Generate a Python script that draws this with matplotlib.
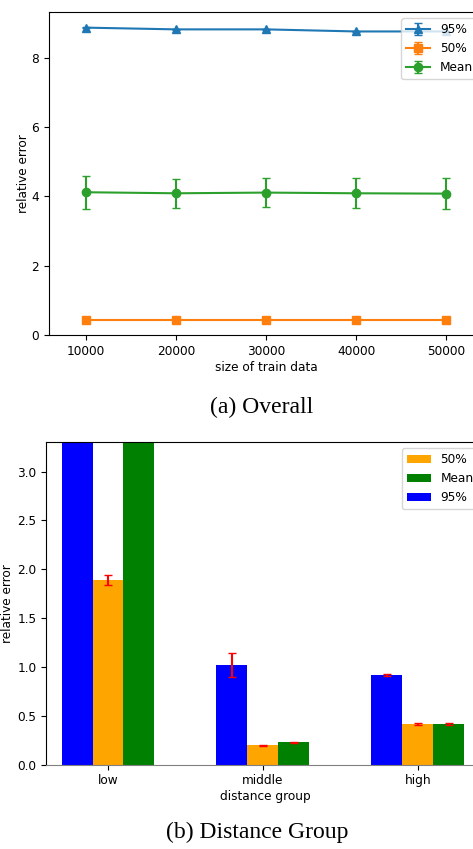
import matplotlib
matplotlib.use("Agg")
import matplotlib.pyplot as plt
import numpy as np

# (a) overall, relative error vs size of train data
train_size = [10000, 20000, 30000, 40000, 50000]
p95 = [8.87, 8.82, 8.82, 8.76, 8.76]
p95_err = [0.02, 0.02, 0.02, 0.02, 0.02]
p50 = [0.42, 0.42, 0.42, 0.42, 0.42]
p50_err = [0.01, 0.01, 0.01, 0.01, 0.01]
mean = [4.12, 4.09, 4.11, 4.09, 4.08]
mean_err = [0.47, 0.42, 0.43, 0.43, 0.44]

# (b) distance group
groups = ["low", "middle", "high"]
g50 = [1.89, 0.20, 0.416]
g50_err = [0.055, 0.005, 0.008]
gmean = [4.6, 0.232, 0.418]
gmean_err = [0.1, 0.005, 0.008]
g95 = [12.0, 1.02, 0.917]
g95_err = [0.3, 0.125, 0.012]

fs = 8.7
plt.rcParams['font.size'] = fs

fig = plt.figure(figsize=(4.73, 8.49), dpi=100)

ax1 = fig.add_axes([0.1036, 0.6054, 0.92, 0.380])
ax1.errorbar(train_size, p95, yerr=p95_err, marker='^', color='C0', capsize=3, label='95%')
ax1.errorbar(train_size, p50, yerr=p50_err, marker='s', color='C1', capsize=3, label='50%')
ax1.errorbar(train_size, mean, yerr=mean_err, marker='o', color='C2', capsize=3, label='Mean')
ax1.set_xlim(5900, 54200)
ax1.set_ylim(0, 9.31)
ax1.set_xticks(train_size)
ax1.set_yticks([0, 2, 4, 6, 8])
ax1.set_xlabel("size of train data", labelpad=2)
ax1.set_ylabel("relative error", labelpad=1)
ax1.legend(loc='upper right', fontsize=fs)

ax2 = fig.add_axes([0.0973, 0.0993, 0.927, 0.3797])
x = np.arange(len(groups))
w = 0.2
ax2.bar(x, g50, w, yerr=g50_err, color='orange', ecolor='red', capsize=3, label='50%')
ax2.bar(x + w, gmean, w, yerr=gmean_err, color='green', ecolor='red', capsize=3, label='Mean')
ax2.bar(x - w, g95, w, yerr=g95_err, color='blue', ecolor='red', capsize=3, label='95%')
ax2.set_xlim(-0.4, 2.43)
ax2.set_ylim(0, 3.3)
ax2.set_xticks(x)
ax2.set_xticklabels(groups)
ax2.set_xlabel("distance group", labelpad=2)
ax2.set_ylabel("relative error", labelpad=2)
ax2.spines['bottom'].set_color('#808080')
ax2.legend(loc='upper right', fontsize=fs)

fig.text(262 / 473, 1 - 407 / 849, "(a) Overall", ha='center', va='center',
         family='Liberation Serif', fontsize=17)
fig.text(257 / 473, 1 - 832 / 849, "(b) Distance Group", ha='center', va='center',
         family='Liberation Serif', fontsize=17)

fig.savefig("out.png", dpi=100)
